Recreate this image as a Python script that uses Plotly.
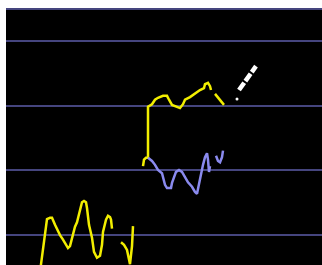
import plotly.graph_objects as go

# Yellow series (two bursts separated by gaps)
yellow_x = [34, 36, 38, 39, 41, 44, 46, 49, 52, 54, 57, 59, 62, 64, 66, 67, 69, 71, 74, 76,
            78, 80, 81, 83, 86, 88, 91, 94, 96, 97, 100, 102, 104, 105, 106, None,
            115, 118, 121, 124, 126, 127, None,
            137, 138, 140, 142, 142, 146, 149, 152, 157, 161, 163, 166, 171, 174, 177, 179,
            184, 189, 194, 198, 199, 202, 204, 205, None, 209, 212, 216, 218]
yellow_y = [4.2, 6.4, 9.2, 10.4, 12.4, 12.6, 12.6, 11.5, 10.5, 9.9, 9.2, 8.7, 7.9, 8.2, 9.5, 10.4, 11.2, 11.9, 13.8, 15.0,
            15.2, 15.0, 14.1, 11.5, 9.5, 7.3, 6.4, 6.7, 8.4, 10.4, 12.3, 12.9, 12.7, 12.3, 10.9, None,
            8.8, 8.4, 7.6, 5.4, 8.2, 11.3, None,
            20.6, 21.6, 21.9, 21.9, 29.8, 30.2, 30.9, 31.2, 31.5, 31.5, 30.9, 30.1, 29.8, 29.6, 30.2, 30.9,
            31.3, 31.9, 32.4, 32.7, 33.3, 33.5, 33.0, 32.4, None, 31.8, 31.2, 30.5, 30.1]

# Blue series
blue_x = [142, 146, 149, 152, 156, 157, 159, 161, 165, 166, 168, 170, 173, 176, 179, 182, 186, 189,
          191, 192, 194, 196, 197, 199, 201, 202, 203, 204, None, 210, 212, 214, 216, 217]
blue_y = [21.9, 21.4, 20.8, 20.0, 19.5, 18.8, 17.7, 17.2, 17.2, 18.0, 18.9, 19.7, 20.0, 19.7, 18.9, 18.1, 17.4, 16.6,
          16.3, 17.1, 18.1, 19.7, 20.8, 22.0, 22.6, 21.6, 19.7, 20.6, None, 22.2, 21.4, 21.2, 22.0, 23.0]

# White series
white_dot_x = [231]
white_dot_y = [31.0]
white_x = [233, 237, 240, 243, 246, 250]
white_y = [32.4, 33.3, 34.1, 34.7, 35.4, 36.1]

grid_color = "#45457e"

fig = go.Figure()
fig.add_trace(go.Scatter(x=yellow_x, y=yellow_y, mode="lines",
                         line=dict(color="#f2ee00", width=2.5), connectgaps=False))
fig.add_trace(go.Scatter(x=blue_x, y=blue_y, mode="lines",
                         line=dict(color="#8a8aee", width=2.5), connectgaps=False))
fig.add_trace(go.Scatter(x=white_x, y=white_y, mode="lines",
                         line=dict(color="#ffffff", width=4.5, dash="9px,2px")))
fig.add_trace(go.Scatter(x=white_dot_x, y=white_dot_y, mode="markers",
                         marker=dict(color="#ffffff", size=3)))

fig.update_layout(
    width=322, height=265,
    margin=dict(l=6, r=0, t=10, b=0),
    paper_bgcolor="#ffffff",
    plot_bgcolor="#000000",
    showlegend=False,
    xaxis=dict(range=[0, 316], showgrid=False, zeroline=False, showticklabels=False,
               ticks="", side="top", showline=True, linecolor=grid_color, linewidth=2),
    yaxis=dict(range=[5.27, 44.81], dtick=10, tick0=0, showgrid=True, gridcolor=grid_color,
               gridwidth=2, zeroline=False, showticklabels=False, ticks="", showline=False),
)

fig.write_html("out.html", config={"displayModeBar": False},
               post_script="document.body.style.margin='0';document.body.style.overflow='hidden';")
